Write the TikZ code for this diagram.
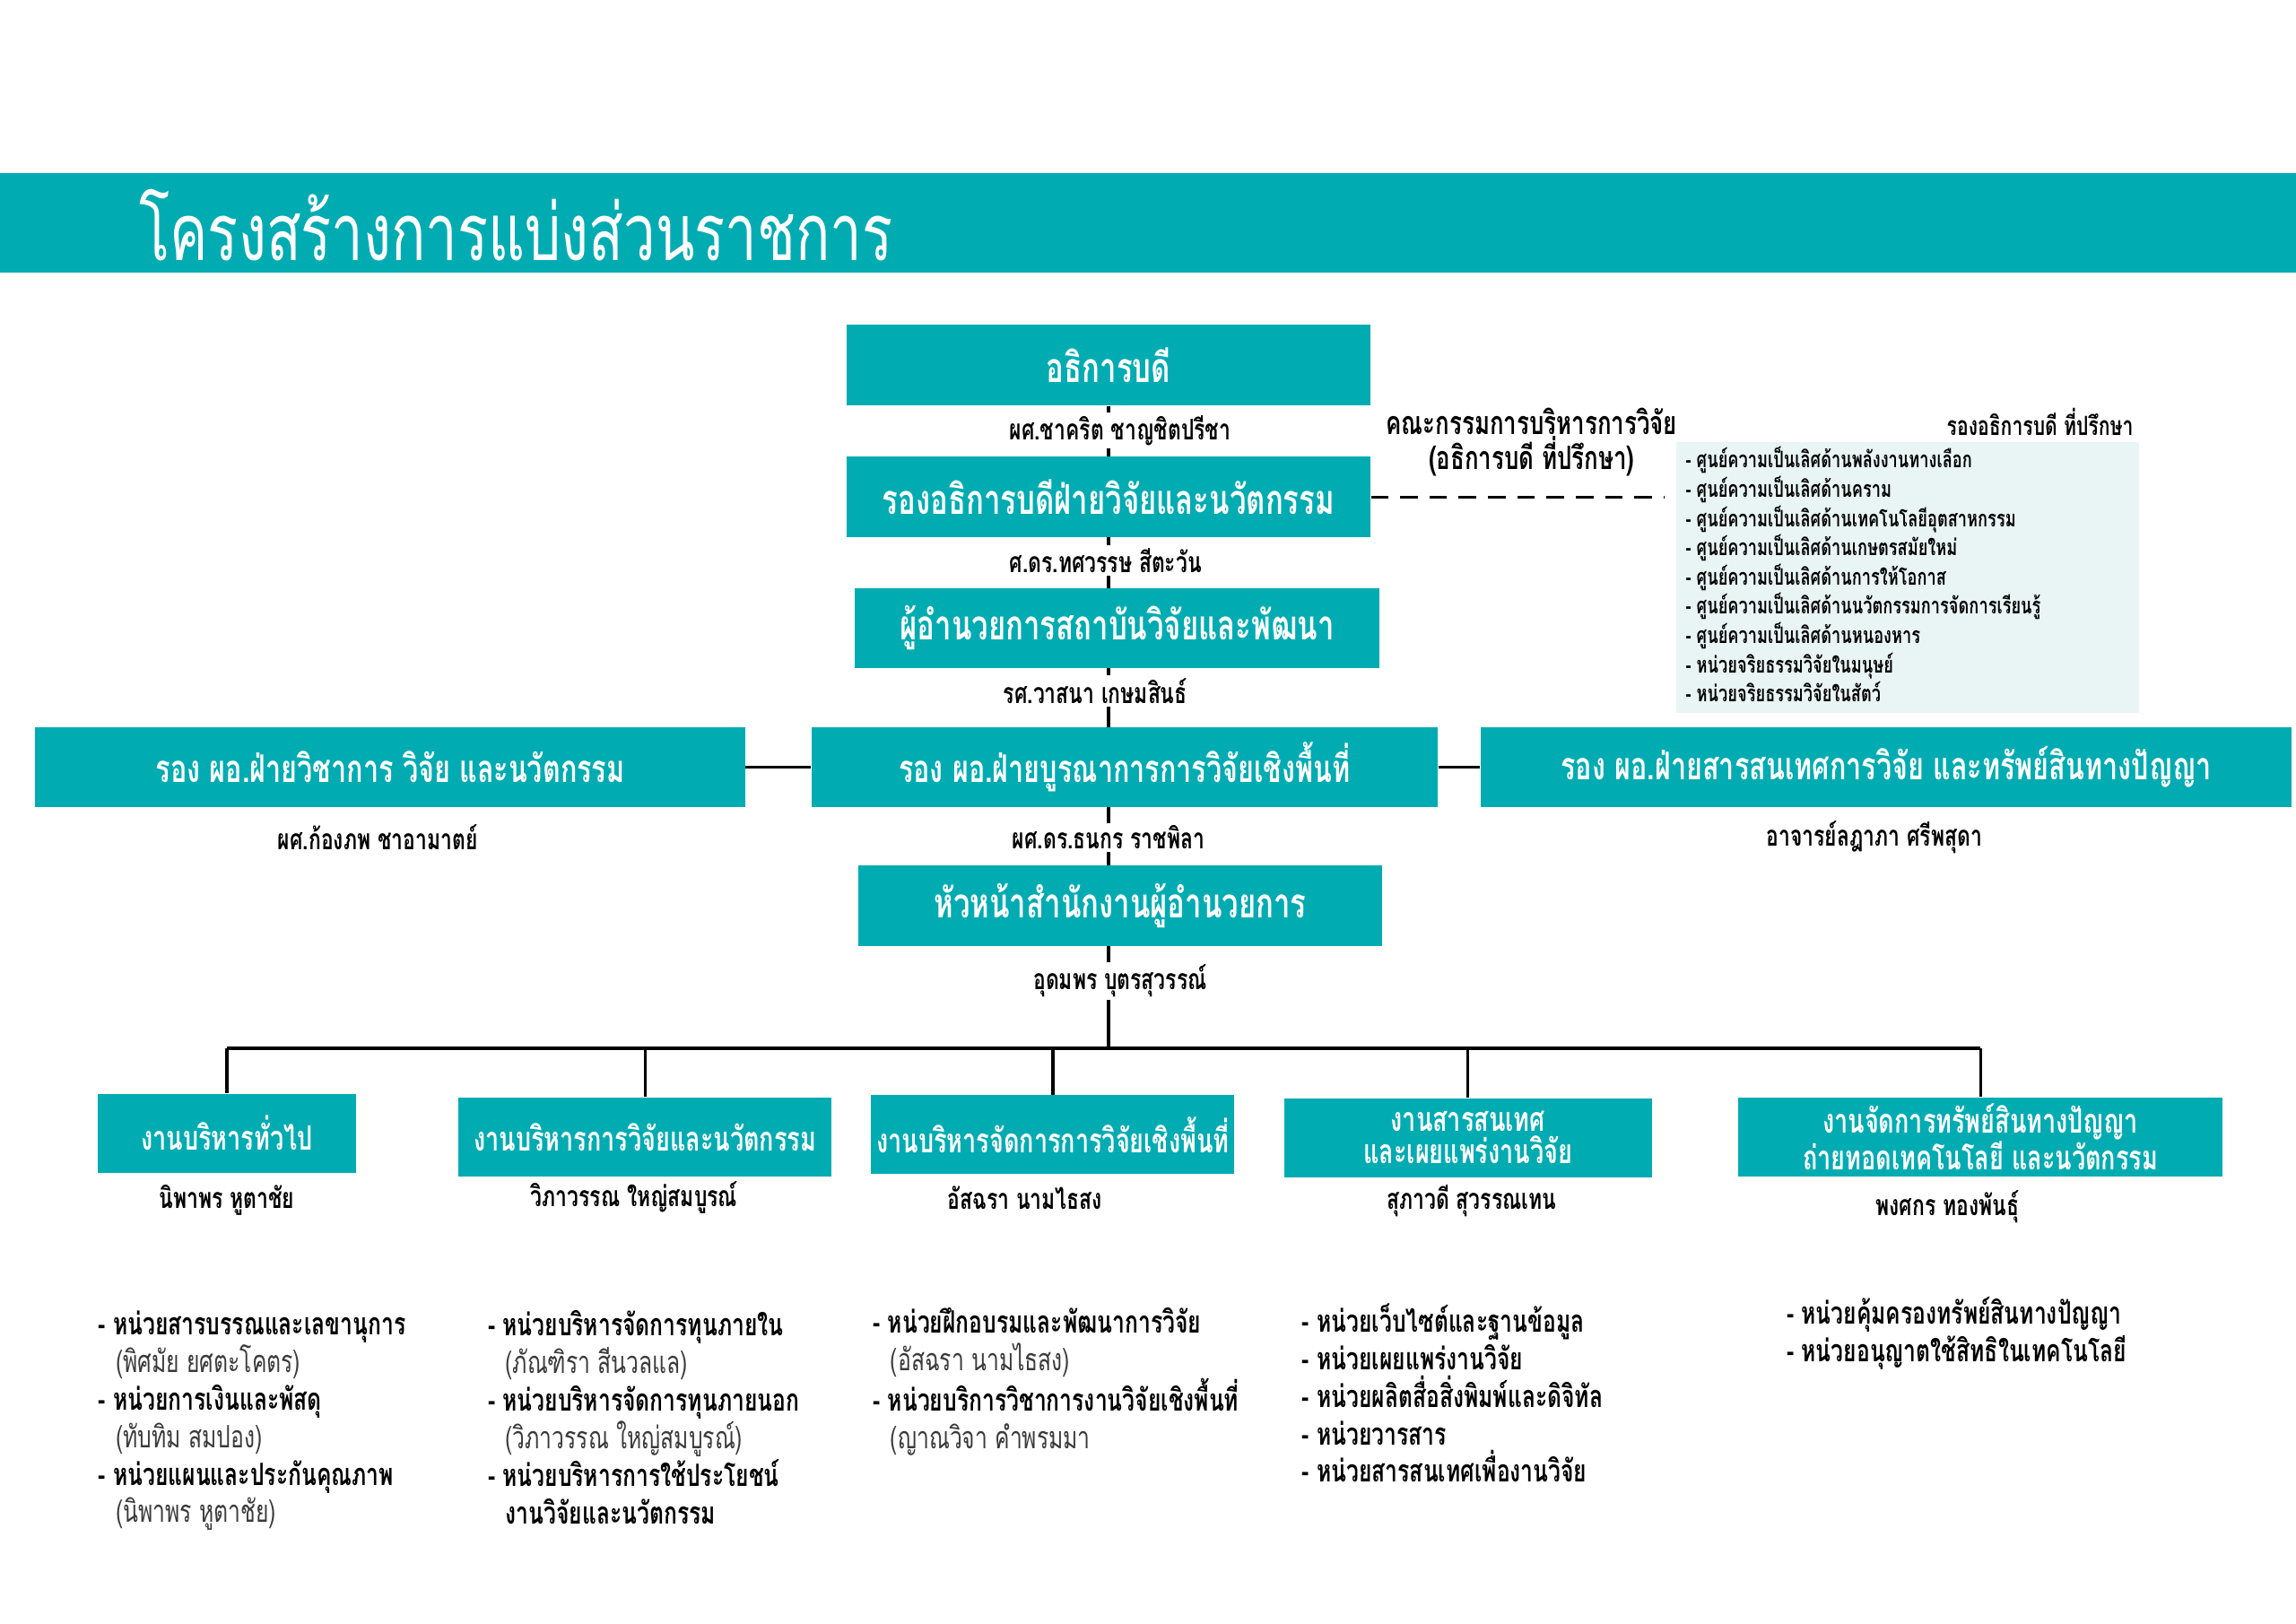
\documentclass[tikz,border=0pt]{standalone}
\usepackage{fontspec}
\setmainfont[Script=Thai, FakeStretch=0.72]{Loma}
\usetikzlibrary{calc}
\definecolor{tealbox}{HTML}{00ACB2}
\definecolor{panelbg}{HTML}{E9F4F5}
\definecolor{subname}{HTML}{3A3A3A}
\pgfdeclarelayer{bg}
\pgfsetlayers{bg,main}
\newcommand\ind{\hspace*{12pt}}
\begin{document}
\begin{tikzpicture}[x=1pt,y=-1pt,
  banner/.style={fill=tealbox, draw=none, minimum width=1568pt, minimum height=68pt, inner sep=0},
  ttl/.style={text=white, font=\fontsize{54}{60}\selectfont, inner sep=0},
  bigbox/.style={fill=tealbox, draw=none, minimum width=358pt, minimum height=55pt, inner sep=0, text=white, font=\fontsize{28}{32}\selectfont\bfseries},
  midbox/.style={fill=tealbox, draw=none, minimum height=54pt, inner sep=0, text=white, font=\fontsize{26}{30}\selectfont\bfseries},
  lowbox/.style={fill=tealbox, draw=none, minimum height=54pt, inner sep=0, text=white, align=center, font=\fontsize{23}{22}\selectfont\bfseries},
  person/.style={fill=white, inner sep=2pt, font=\fontsize{19.5}{23}\selectfont\bfseries},
  unitlist/.style={anchor=north west, align=left, inner sep=0, font=\fontsize{21}{25.7}\selectfont},
  link/.style={line width=2pt, draw=black},
  dashlink/.style={line width=2.2pt, draw=black, dash pattern=on 12pt off 8pt}
]
\useasboundingbox (0,0) rectangle (1568,1109);
\node[banner] (ban) at (784,152) {};
\node[ttl, anchor=west] (title) at (95,154) {โครงสร้างการแบ่งส่วนราชการ};

% top chain
\node[bigbox] (n1) at (757,249.5) {อธิการบดี};
\node[person] (p1) at (765,294) {ผศ.ชาคริต ชาญชิตปรีชา};
\node[bigbox] (n2) at (757,339.5) {รองอธิการบดีฝ่ายวิจัยและนวัตกรรม};
\node[person] (p2) at (755,383) {ศ.ดร.ทศวรรษ สีตะวัน};
\node[bigbox] (n3) at (763,429) {ผู้อำนวยการสถาบันวิจัยและพัฒนา};
\node[person] (p3) at (748,472) {รศ.วาสนา เกษมสินธ์};

% middle row
\node[midbox, minimum width=485pt] (m1) at (266.5,524) {รอง ผอ.ฝ่ายวิชาการ วิจัย และนวัตกรรม};
\node[midbox, minimum width=428pt] (m2) at (768,524) {รอง ผอ.ฝ่ายบูรณาการการวิจัยเชิงพื้นที่};
\node[midbox, minimum width=554pt] (m3) at (1288,524) {รอง ผอ.ฝ่ายสารสนเทศการวิจัย และทรัพย์สินทางปัญญา};
\node[person] (q1) at (258,572) {ผศ.ก้องภพ ชาอามาตย์};
\node[person] (q2) at (757,572) {ผศ.ดร.ธนกร ราชพิลา};
\node[person] (q3) at (1280,572) {อาจารย์ลฎาภา ศรีพสุดา};

\node[bigbox] (n5) at (765,618.5) {หัวหน้าสำนักงานผู้อำนวยการ};
\node[person] (p5) at (765,670) {อุดมพร บุตรสุวรรณ์};
\coordinate (bus) at (757,716);

% bottom boxes
\node[lowbox, minimum width=176pt] (b1) at (155,774) {งานบริหารทั่วไป};
\node[lowbox, minimum width=255pt] (b2) at (440.5,776.5) {งานบริหารการวิจัยและนวัตกรรม};
\node[lowbox, minimum width=248pt] (b3) at (719,775) {งานบริหารจัดการการวิจัยเชิงพื้นที่};
\node[lowbox, minimum width=251pt] (b4) at (1002.5,777) {งานสารสนเทศ\\และเผยแพร่งานวิจัย};
\node[lowbox, minimum width=331pt] (b5) at (1352.5,776.5) {งานจัดการทรัพย์สินทางปัญญา\\ถ่ายทอดเทคโนโลยี และนวัตกรรม};
\node[person] (r1) at (155,820) {นิพาพร หูตาชัย};
\node[person] (r2) at (433,818) {วิภาวรรณ ใหญ่สมบูรณ์};
\node[person] (r3) at (700,818) {อัสฉรา นามไธสง};
\node[person] (r4) at (1005,820) {สุภาวดี สุวรรณเทน};
\node[person] (r5) at (1330,824) {พงศกร ทองพันธุ์};

% unit lists
\node[unitlist] (l1) at (67,895) {\textbf{- หน่วยสารบรรณและเลขานุการ}\\
  \color{subname}\ind(พิศมัย ยศตะโคตร)\\
  \textbf{- หน่วยการเงินและพัสดุ}\\
  \color{subname}\ind(ทับทิม สมปอง)\\
  \textbf{- หน่วยแผนและประกันคุณภาพ}\\
  \color{subname}\ind(นิพาพร หูตาชัย)};
\node[unitlist] (l2) at (333,895) {\textbf{- หน่วยบริหารจัดการทุนภายใน}\\
  \color{subname}\ind(ภัณฑิรา สีนวลแล)\\
  \textbf{- หน่วยบริหารจัดการทุนภายนอก}\\
  \color{subname}\ind(วิภาวรรณ ใหญ่สมบูรณ์)\\
  \textbf{- หน่วยบริหารการใช้ประโยชน์}\\
  \ind\textbf{งานวิจัยและนวัตกรรม}};
\node[unitlist] (l3) at (596,893) {\textbf{- หน่วยฝึกอบรมและพัฒนาการวิจัย}\\
  \color{subname}\ind(อัสฉรา นามไธสง)\\
  \textbf{- หน่วยบริการวิชาการงานวิจัยเชิงพื้นที่}\\
  \color{subname}\ind(ญาณวิจา คำพรมมา};
\node[unitlist, font=\fontsize{21}{25.7}\selectfont\bfseries] (l4) at (889,890) {- หน่วยเว็บไซต์และฐานข้อมูล\\
  - หน่วยเผยแพร่งานวิจัย\\
  - หน่วยผลิตสื่อสิ่งพิมพ์และดิจิทัล\\
  - หน่วยวารสาร\\
  - หน่วยสารสนเทศเพื่องานวิจัย};
\node[unitlist, font=\fontsize{21}{25.7}\selectfont\bfseries] (l5) at (1220,886) {- หน่วยคุ้มครองทรัพย์สินทางปัญญา\\
  - หน่วยอนุญาตใช้สิทธิในเทคโนโลยี};

% advisory side
\node[align=center, inner sep=0, font=\fontsize{22}{24}\selectfont\bfseries] (cmt) at (1046,302) {คณะกรรมการบริหารการวิจัย\\(อธิการบดี ที่ปรึกษา)};
\node[anchor=east, inner sep=0, font=\fontsize{18}{20}\selectfont\bfseries] (adv) at (1457,288) {รองอธิการบดี ที่ปรึกษา};
\node[fill=panelbg, draw=none, minimum width=316pt, minimum height=185pt, inner sep=0] (panel) at (1303,394.5) {};
\node[anchor=north west, align=left, inner sep=0, font=\fontsize{15.5}{20}\selectfont\bfseries] (plist) at (1151,305) {- ศูนย์ความเป็นเลิศด้านพลังงานทางเลือก\\
- ศูนย์ความเป็นเลิศด้านคราม\\
- ศูนย์ความเป็นเลิศด้านเทคโนโลยีอุตสาหกรรม\\
- ศูนย์ความเป็นเลิศด้านเกษตรสมัยใหม่\\
- ศูนย์ความเป็นเลิศด้านการให้โอกาส\\
- ศูนย์ความเป็นเลิศด้านนวัตกรรมการจัดการเรียนรู้\\
- ศูนย์ความเป็นเลิศด้านหนองหาร\\
- หน่วยจริยธรรมวิจัยในมนุษย์\\
- หน่วยจริยธรรมวิจัยในสัตว์};
\coordinate (dashend) at (1137,339.5);

\begin{pgfonlayer}{bg}
  \draw[link] (n1.south -| bus) -- (bus);
  \draw[link] (m1.east) -- (m2.west);
  \draw[link] (m2.east) -- (m3.west);
  \draw[link] (b1.north |- bus) -- (b5.north |- bus);
  \foreach \b in {b1,b2,b3,b4,b5} { \draw[link] (\b.north |- bus) -- (\b.north); }
  \draw[dashlink] (n2.east) -- (dashend);
\end{pgfonlayer}
\end{tikzpicture}
\end{document}
